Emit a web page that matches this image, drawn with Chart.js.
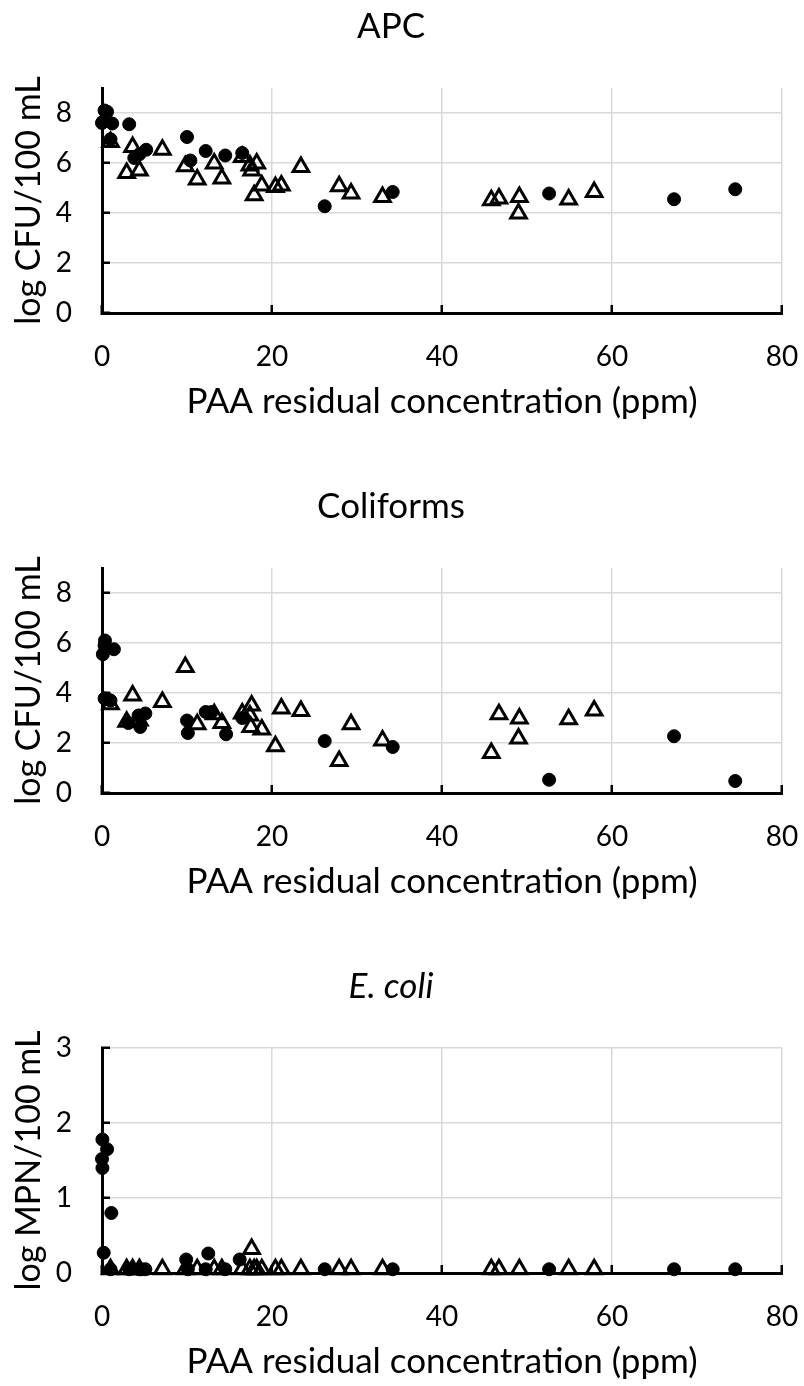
<!DOCTYPE html>
<html>
<head>
<meta charset="utf-8">
<script src="https://cdn.jsdelivr.net/npm/chart.js@4.4.1/dist/chart.umd.min.js"></script>
<style>
  body { margin: 0; background: #fff; }
  .chart-box { position: absolute; left: 0; width: 804px; height: 426px; }
</style>
</head>
<body>
<div class="chart-box" style="top:0px"><canvas id="apc-chart" width="804" height="426"></canvas></div>
<div class="chart-box" style="top:480px"><canvas id="coliform-chart" width="804" height="426"></canvas></div>
<div class="chart-box" style="top:960px"><canvas id="ecoli-chart" width="804" height="426"></canvas></div>
<script>
// APC
const apcCircleX = [0.3, 0.6, 0.1, 0.0, 1.2, 1.0, 3.2, 10.0, 5.2, 3.8, 4.4, 10.4, 12.2, 14.5, 16.5, 26.2, 34.2, 52.6, 67.3, 74.5];
const apcCircleY = [8.1, 8.05, 7.65, 7.6, 7.58, 6.95, 7.55, 7.04, 6.53, 6.2, 6.35, 6.1, 6.48, 6.3, 6.4, 4.27, 4.84, 4.78, 4.55, 4.95];
const apcTriX = [1.0, 3.6, 2.9, 4.4, 7.1, 9.8, 11.2, 13.2, 14.1, 16.5, 17.4, 18.2, 17.6, 17.9, 18.8, 20.4, 21.1, 23.4, 27.9, 29.3, 33.0, 45.8, 46.7, 49.1, 49.0, 54.9, 57.9];
const apcTriY = [6.84, 6.64, 5.6, 5.7, 6.53, 5.87, 5.34, 5.98, 5.38, 6.24, 5.9, 5.98, 5.7, 4.71, 5.1, 5.04, 5.1, 5.84, 5.07, 4.78, 4.64, 4.51, 4.58, 4.64, 3.98, 4.54, 4.84];

// Coliforms
const colCircleX = [0.35, 0.3, 1.4, 0.1, 0.3, 1.0, 3.1, 4.3, 4.5, 5.1, 10.0, 10.1, 12.2, 12.9, 14.6, 16.5, 26.2, 34.2, 52.6, 67.3, 74.5];
const colCircleY = [6.1, 5.9, 5.75, 5.55, 3.78, 3.7, 2.8, 3.1, 2.64, 3.18, 2.9, 2.4, 3.24, 3.24, 2.35, 3.0, 2.08, 1.84, 0.53, 2.27, 0.48];
const colTriX = [1.0, 3.6, 2.9, 4.4, 7.1, 9.8, 11.2, 13.2, 14.1, 16.5, 17.4, 17.6, 17.5, 18.8, 20.4, 21.1, 23.4, 27.9, 29.3, 33.0, 45.8, 46.7, 49.1, 49.0, 54.9, 57.9];
const colTriY = [3.55, 3.9, 2.85, 2.9, 3.64, 5.04, 2.75, 3.15, 2.8, 3.18, 3.1, 3.5, 2.64, 2.54, 1.87, 3.38, 3.28, 1.28, 2.75, 2.1, 1.6, 3.15, 2.98, 2.18, 2.95, 3.3];

// E. coli
const ecoCircleX = [0.05, 0.6, 0.0, 0.05, 1.1, 0.2, 9.9, 12.5, 16.2, 1.0, 3.2, 4.4, 4.6, 5.1, 10.1, 12.2, 14.5, 26.2, 34.2, 52.6, 67.3, 74.5];
const ecoCircleY = [1.78, 1.65, 1.52, 1.4, 0.8, 0.27, 0.18, 0.26, 0.18, 0.05, 0.05, 0.05, 0.05, 0.05, 0.05, 0.05, 0.05, 0.05, 0.05, 0.05, 0.05, 0.05];
const ecoTriX = [1.0, 3.6, 2.9, 4.4, 7.1, 9.8, 11.2, 13.2, 14.1, 16.5, 17.4, 18.2, 17.6, 17.9, 18.8, 20.4, 21.1, 23.4, 27.9, 29.3, 33.0, 45.8, 46.7, 49.1, 54.9, 57.9];
const ecoTriY = [0.05, 0.05, 0.05, 0.05, 0.05, 0.05, 0.05, 0.05, 0.05, 0.05, 0.05, 0.05, 0.32, 0.05, 0.05, 0.05, 0.05, 0.05, 0.05, 0.05, 0.05, 0.05, 0.05, 0.05, 0.05, 0.05];

const xTitle = 'PAA residual concentration (ppm)';

Chart.defaults.font.family = 'Lato, "Open Sans", sans-serif';
Chart.defaults.color = '#000';

function toPoints(xs, ys) {
  return xs.map((x, i) => ({ x: x, y: ys[i] }));
}

function axisStyle() {
  return {
    grid: { color: '#d9d9d9', lineWidth: 1.5, tickLength: -8, tickColor: '#000', tickWidth: 2.5 },
    border: { color: '#000', width: 3 }
  };
}

function buildChart(id, title, italic, yLabel, yMax, yStep, circles, triangles) {
  const ctx = document.getElementById(id).getContext('2d');
  return new Chart(ctx, {
    type: 'scatter',
    data: {
      datasets: [
        { // circles first so they sit on top
          data: circles,
          pointStyle: 'circle',
          pointRadius: 6.5,
          borderWidth: 1,
          backgroundColor: '#000',
          borderColor: '#000',
          clip: false
        },
        {
          data: triangles,
          pointStyle: 'triangle',
          pointRadius: 9,
          borderWidth: 3,
          backgroundColor: 'rgba(255,255,255,0)',
          borderColor: '#000',
          clip: false
        }
      ]
    },
    options: {
      responsive: false,
      animation: false,
      layout: { padding: { left: 0, right: 22, top: 0, bottom: 3 } },
      plugins: {
        legend: { display: false },
        tooltip: { enabled: false },
        title: {
          display: true,
          text: title,
          color: '#000',
          font: { size: 35, weight: 'normal', style: italic ? 'italic' : 'normal' },
          padding: { top: 6, bottom: 40 }
        }
      },
      scales: {
        x: {
          type: 'linear',
          min: 0,
          max: 80,
          ...axisStyle(),
          ticks: { stepSize: 20, padding: 35, font: { size: 28 }, color: '#000' },
          title: { display: true, text: xTitle, color: '#000', font: { size: 35 }, padding: { top: 0, bottom: 0 } },
          afterFit: scale => {
            scale.height = 110;
            scale.paddingLeft = 0;
            scale.paddingRight = 0;
          }
        },
        y: {
          type: 'linear',
          min: 0,
          max: yMax,
          ...axisStyle(),
          ticks: { stepSize: yStep, includeBounds: false, padding: 38, font: { size: 28 }, color: '#000' },
          title: { display: true, text: yLabel, color: '#000', font: { size: 34 }, padding: { top: 9, bottom: 0 } },
          afterFit: scale => { scale.width = 102; }
        }
      }
    }
  });
}

buildChart('apc-chart', 'APC', false, 'log CFU/100 mL', 9, 2,
  toPoints(apcCircleX, apcCircleY), toPoints(apcTriX, apcTriY));
buildChart('coliform-chart', 'Coliforms', false, 'log CFU/100 mL', 9, 2,
  toPoints(colCircleX, colCircleY), toPoints(colTriX, colTriY));
buildChart('ecoli-chart', 'E. coli', true, 'log MPN/100 mL', 3, 1,
  toPoints(ecoCircleX, ecoCircleY), toPoints(ecoTriX, ecoTriY));
</script>
</body>
</html>
